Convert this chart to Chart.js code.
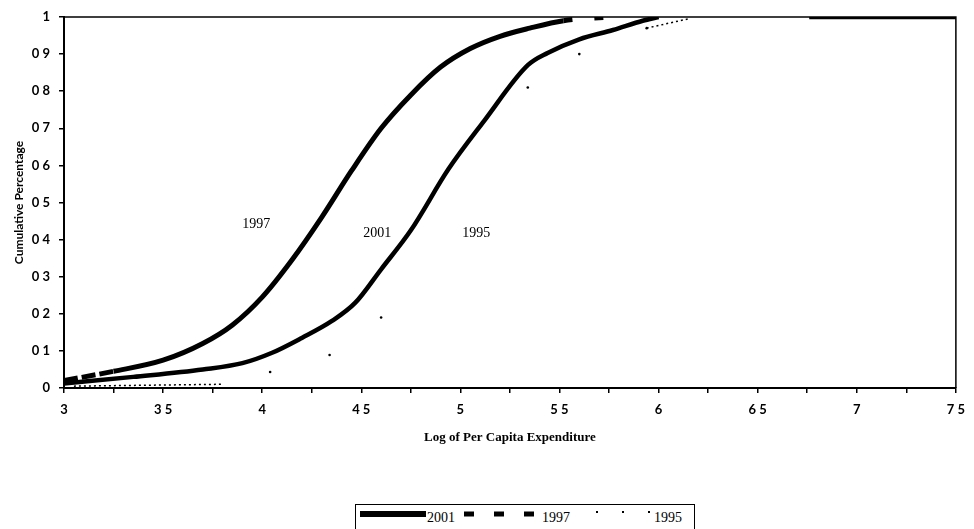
<!DOCTYPE html>
<html>
<head>
<meta charset="utf-8">
<script src="https://cdn.jsdelivr.net/npm/chart.js@4.4.0/dist/chart.umd.min.js"></script>
<style>
  html, body { margin: 0; padding: 0; background: #fff; overflow: hidden; }
  #wrap { position: relative; width: 974px; height: 529px; }
  #legend {
    position: absolute; left: 355px; top: 504px; width: 340px; height: 28px;
    border: 1.5px solid #000; box-sizing: border-box; background: #fff;
    font: 14px "Liberation Serif", serif; color: #000;
  }
  #legend svg, #legend span { position: absolute; }
  #legend span { top: 5px; }
</style>
</head>
<body>
<div id="wrap">
  <canvas id="cdfChart" width="974" height="529"></canvas>
  <div id="legend">
    <svg style="left:4px;top:4px" width="66" height="10"><line x1="0" y1="5" x2="66" y2="5" stroke="#000" stroke-width="6"/></svg>
    <span style="left:71px">2001</span>
    <svg style="left:108px;top:4px" width="76" height="10"><line x1="0" y1="5" x2="76" y2="5" stroke="#000" stroke-width="5" stroke-dasharray="10 20"/></svg>
    <span style="left:186px">1997</span>
    <svg style="left:240px;top:2px" width="60" height="10"><line x1="0" y1="5" x2="60" y2="5" stroke="#000" stroke-width="2" stroke-dasharray="2 24"/></svg>
    <span style="left:298px">1995</span>
  </div>
</div>
<script>
// Cumulative distribution of log per capita expenditure, three survey years

const x2001 = [3.0, 3.35, 3.7, 3.9, 4.05, 4.2, 4.35, 4.47, 4.6, 4.75, 4.94, 5.12, 5.34, 5.44, 5.6, 5.77, 5.92, 6.0, 6.4, 6.76, 7.5];
const y2001 = [0.012, 0.03, 0.05, 0.067, 0.095, 0.135, 0.18, 0.23, 0.32, 0.425, 0.59, 0.72, 0.87, 0.903, 0.94, 0.965, 0.99, 1.0, null, 1.0, 1.0];

const x1997 = [3.0, 3.25, 3.5, 3.7, 3.85, 4.0, 4.15, 4.3, 4.45, 4.6, 4.75, 4.9, 5.05, 5.2, 5.35, 5.52, 5.75];
const y1997 = [0.02, 0.045, 0.075, 0.12, 0.17, 0.245, 0.345, 0.46, 0.585, 0.7, 0.79, 0.865, 0.915, 0.948, 0.97, 0.99, 1.0];

const x1995 = [3.05, 3.8, 4.04, 4.34, 4.6, 5.34, 5.6, 5.94, 6.15];
const y1995 = [0.005, 0.01, 0.043, 0.089, 0.19, 0.81, 0.90, 0.97, 0.995];

const xTickLabels = ['3', '3 5', '4', '4 5', '5', '5 5', '6', '6 5', '7', '7 5'];
const yTickLabels = ['0', '0 1', '0 2', '0 3', '0 4', '0 5', '0 6', '0 7', '0 8', '0 9', '1'];

// text placed next to the curves
const curveNames = ['1997', '2001', '1995'];
const curveNameX = [3.97, 4.58, 5.08];
const curveNameY = [0.44, 0.418, 0.418];

function toPoints(xs, ys) {
    return xs.map((x, i) => ({ x: x, y: ys[i] }));
}

const tickFont = { family: 'Lato', size: 13, weight: 'bold' };

const framePlugin = {
    id: 'frame',
    beforeDatasetsDraw(chart) {
        const a = chart.chartArea;
        const c = chart.ctx;
        c.save();
        c.strokeStyle = '#000';
        c.lineWidth = 1.5;
        c.beginPath();
        c.moveTo(a.left, a.top);
        c.lineTo(a.right, a.top);
        c.lineTo(a.right, a.bottom);
        c.stroke();
        c.restore();
    },
    afterDatasetsDraw(chart) {
        const c = chart.ctx;
        const xs = chart.scales.x, ys = chart.scales.y;
        c.save();
        c.fillStyle = '#000';
        c.font = '14px "Liberation Serif"';
        c.textAlign = 'center';
        c.textBaseline = 'middle';
        curveNames.forEach((t, i) => {
            c.fillText(t, xs.getPixelForValue(curveNameX[i]), ys.getPixelForValue(curveNameY[i]));
        });
        c.restore();
    }
};

function initializeChart() {
    const ctx = document.getElementById('cdfChart').getContext('2d');
    new Chart(ctx, {
        type: 'line',
        data: {
            datasets: [{
                label: '2001',
                data: toPoints(x2001, y2001),
                borderColor: '#000',
                borderWidth: 4.5,
                pointRadius: 0,
                spanGaps: false,
                cubicInterpolationMode: 'monotone'
            }, {
                label: '1997',
                data: toPoints(x1997, y1997),
                borderColor: '#000',
                borderWidth: 5,
                pointRadius: 0,
                cubicInterpolationMode: 'monotone',
                segment: {
                    borderDash: c => {
                        if (c.p0.parsed.y >= 0.985) return [9, 22];
                        if (c.p1.parsed.x <= 3.3) return [14, 4];
                        return undefined;
                    }
                }
            }, {
                label: '1995',
                data: toPoints(x1995, y1995),
                borderColor: '#000',
                borderWidth: 1.5,
                borderDash: [2, 3],
                pointRadius: c => {
                    const y = c.parsed ? c.parsed.y : 0;
                    return (y > 0.02 && y < 0.99) ? 1.3 : 0;
                },
                pointBackgroundColor: '#000',
                pointBorderWidth: 0,
                segment: {
                    borderColor: c => {
                        const a = c.p0.parsed.y, b = c.p1.parsed.y;
                        if ((a <= 0.02 && b <= 0.02) || (a >= 0.97 && b >= 0.97)) return undefined;
                        return 'rgba(0,0,0,0)';
                    }
                }
            }]
        },
        options: {
            responsive: false,
            animation: false,
            devicePixelRatio: 1,
            layout: { padding: { left: 0, top: 17, right: 12, bottom: 84 } },
            plugins: {
                legend: { display: false },
                tooltip: { enabled: false }
            },
            scales: {
                x: {
                    type: 'linear',
                    min: 3,
                    max: 7.5,
                    afterFit: s => { s.height = 57; },
                    border: { display: true, color: '#000', width: 2 },
                    grid: { display: true, drawOnChartArea: false, drawTicks: true, tickLength: 5, color: '#000', lineWidth: 1.5 },
                    ticks: {
                        stepSize: 0.25,
                        autoSkip: false,
                        maxRotation: 0,
                        padding: 9,
                        color: '#000',
                        font: tickFont,
                        callback: (v, i) => (i % 2 === 0 ? xTickLabels[i / 2] : '')
                    },
                    title: {
                        display: true,
                        text: 'Log of Per Capita Expenditure',
                        color: '#000',
                        font: { family: 'Liberation Serif', size: 13, weight: 'bold' },
                        padding: { top: 0, bottom: 0 }
                    }
                },
                y: {
                    min: 0,
                    max: 1,
                    afterFit: s => { s.width = 64; },
                    border: { display: true, color: '#000', width: 2 },
                    grid: { display: true, drawOnChartArea: false, drawTicks: true, tickLength: 5, color: '#000', lineWidth: 1.5 },
                    ticks: {
                        stepSize: 0.1,
                        padding: 9,
                        color: '#000',
                        font: tickFont,
                        callback: (v, i) => yTickLabels[i]
                    },
                    title: {
                        display: true,
                        text: 'Cumulative Percentage',
                        color: '#000',
                        font: { family: 'Lato', size: 12, weight: 'bold' },
                        padding: { top: 12, bottom: 0 }
                    }
                }
            }
        },
        plugins: [framePlugin]
    });
}

window.onload = function() {
    initializeChart();
};
</script>
</body>
</html>
